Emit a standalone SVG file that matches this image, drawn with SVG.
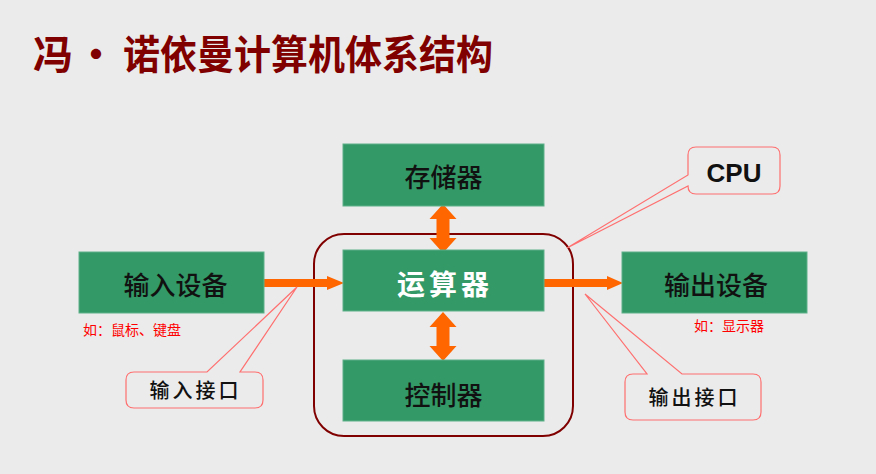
<svg xmlns="http://www.w3.org/2000/svg" width="876" height="474" viewBox="0 0 876 474">
<style>
.cjk{font-family:"Noto Sans CJK SC","Noto Sans",sans-serif}
.box{fill:#339966;stroke:#5fb08a;stroke-width:1}
.lbl{font-size:26px;fill:#111;text-anchor:middle;font-weight:500}
.note{font-size:14px;fill:#ff0000}
.arrow{fill:#ff6600}
.call{fill:#ebebeb;stroke:#ff6f6f;stroke-width:1.2}
.ctext{font-size:20px;fill:#111;text-anchor:middle;letter-spacing:3px;font-weight:500}
</style>
<rect width="876" height="474" fill="#ebebeb"/>
<g id="title" class="cjk" font-weight="bold" fill="#800000" font-size="40">
<text x="33" y="69">冯</text>
<text x="96" y="69" text-anchor="middle">·</text>
<text x="123" y="69" textLength="370" lengthAdjust="spacingAndGlyphs">诺依曼计算机体系结构</text>
</g>
<g id="cpu-container"><rect x="314" y="234" width="259" height="202" rx="30" fill="none" stroke="#800000" stroke-width="2"/></g>
<g id="connectors">
<polygon class="arrow" points="263,279 327,279 327,276 344,283 327,290 327,287 263,287"/>
<polygon class="arrow" points="544,279 607,279 607,276 623,283 607,290 607,287 544,287"/>
<polygon class="arrow" points="443,204 456.5,219 449.5,219 449.5,238 456.5,238 443,253 429.5,238 436.5,238 436.5,219 429.5,219"/>
<polygon class="arrow" points="443,312 456.5,327 449.5,327 449.5,346 456.5,346 443,361 429.5,346 436.5,346 436.5,327 429.5,327"/>
</g>
<g id="memory"><rect class="box" x="343" y="144" width="201" height="62"/><text class="cjk lbl" x="443.5" y="187">存储器</text></g>
<g id="alu"><rect class="box" x="343" y="250" width="201" height="61"/><text class="cjk" x="445" y="295" font-size="28" font-weight="bold" fill="#fff" text-anchor="middle" letter-spacing="4">运算器</text></g>
<g id="control"><rect class="box" x="343" y="360" width="201" height="61"/><text class="cjk lbl" x="443.5" y="405">控制器</text></g>
<g id="input"><rect class="box" x="79" y="252" width="185" height="61"/><text class="cjk lbl" x="175.5" y="294.5">输入设备</text><text class="cjk note" x="83" y="335">如：鼠标、键盘</text></g>
<g id="output"><rect class="box" x="622" y="252" width="185" height="61"/><text class="cjk lbl" x="716" y="294.5">输出设备</text><text class="cjk note" x="694" y="331">如：显示器</text></g>
<g id="cpu-callout"><path class="call" d="M696,147 H772 Q780,147 780,155 V186 Q780,194 772,194 H696 Q688,194 688,186 L567,248 L688,175 V155 Q688,147 696,147 Z"/><text x="734" y="182" font-family="'Liberation Sans',Arial,sans-serif" font-weight="bold" font-size="26" fill="#111" text-anchor="middle">CPU</text></g>
<g id="input-port"><path class="call" d="M134,372 H207 L297,287 L240,372 H255 Q263,372 263,380 V400 Q263,408 255,408 H134 Q126,408 126,400 V380 Q126,372 134,372 Z"/><text class="cjk ctext" x="195.5" y="397.5">输入接口</text></g>
<g id="output-port"><path class="call" d="M633,374 H647 L585,294 L682,374 H753 Q761,374 761,382 V412 Q761,420 753,420 H633 Q625,420 625,412 V382 Q625,374 633,374 Z"/><text class="cjk ctext" x="694.5" y="405">输出接口</text></g>
</svg>
